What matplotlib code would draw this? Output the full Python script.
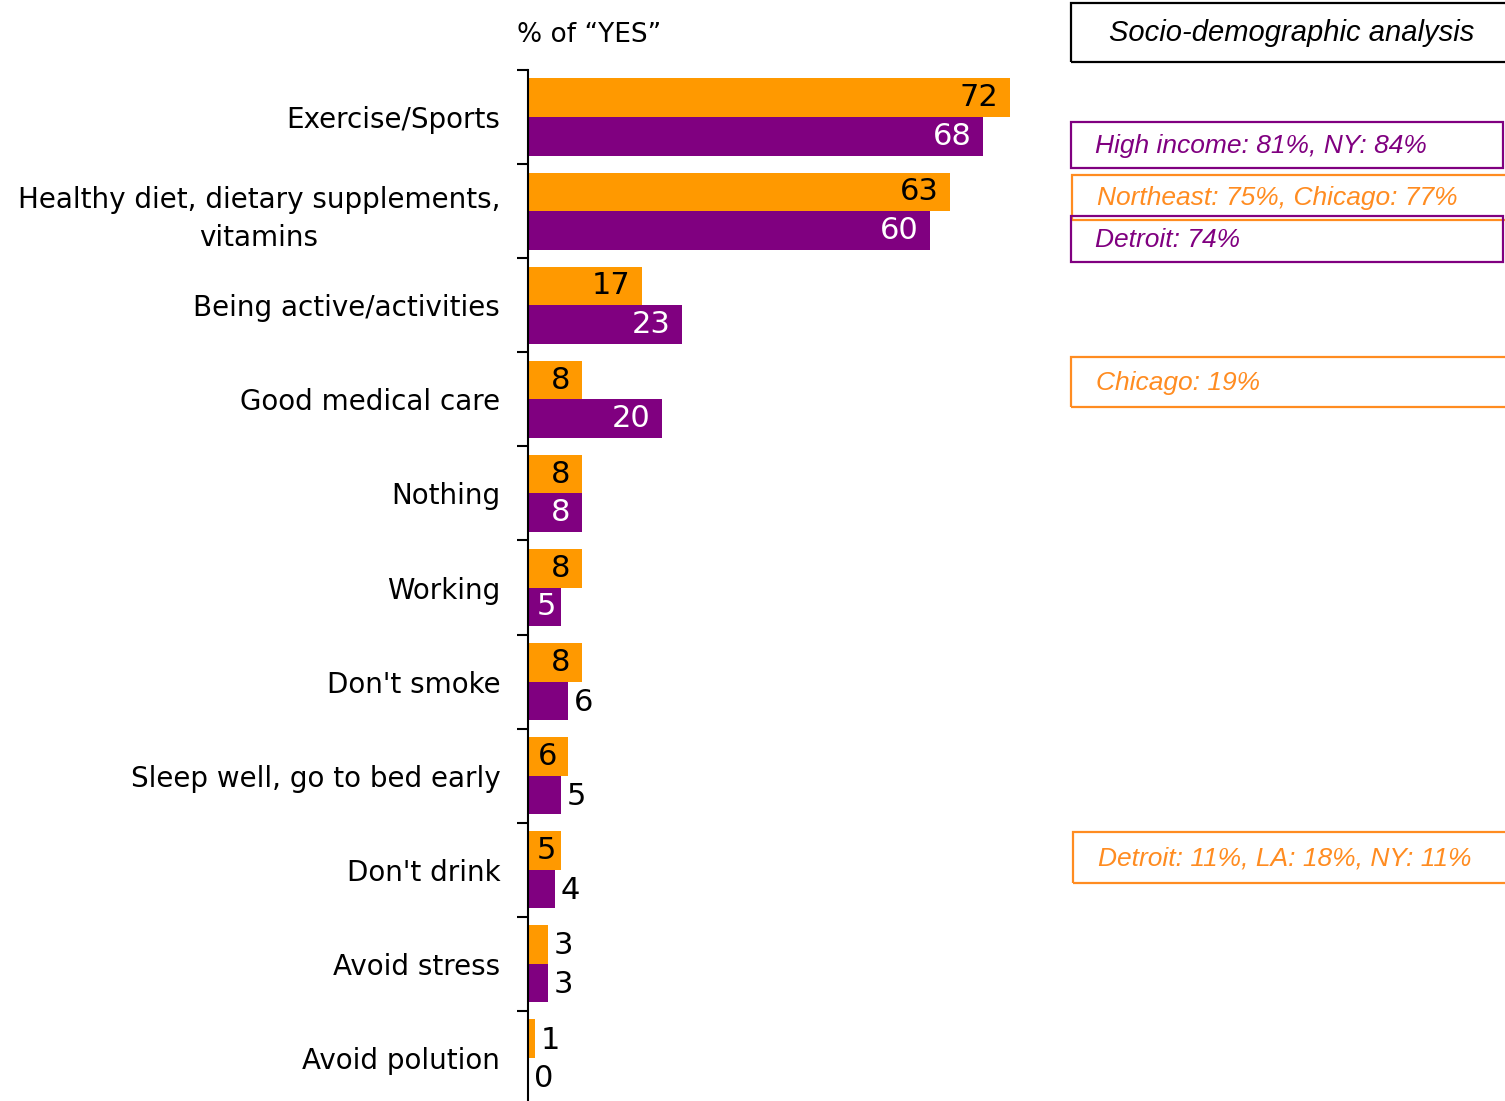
import matplotlib
matplotlib.use("Agg")
import matplotlib.pyplot as plt
from matplotlib.patches import Rectangle

# Data
categories = ["Exercise/Sports", "Healthy diet, dietary supplements,\nvitamins",
              "Being active/activities", "Good medical care", "Nothing", "Working",
              "Don't smoke", "Sleep well, go to bed early", "Don't drink",
              "Avoid stress", "Avoid polution"]
orange_vals = [72, 63, 17, 8, 8, 8, 8, 6, 5, 3, 1]
purple_vals = [68, 60, 23, 20, 8, 5, 6, 5, 4, 3, 0]

# label placement: True = inside the bar end
orange_inside = [True, True, True, True, True, True, True, True, True, False, False]
purple_inside = [True, True, True, True, True, True, False, False, False, False, False]

notes = [
    ("High income: 81%, NY: 84%", "purple"),
    ("Northeast: 75%, Chicago: 77%", "orange"),
    ("Detroit: 74%", "purple"),
    ("Chicago: 19%", "orange"),
    ("Detroit: 11%, LA: 18%, NY: 11%", "orange"),
]

ORANGE = "#FF9900"
PURPLE = "#800080"
NOTE_ORANGE = "#FF8C21"

W, H = 1505, 1101
fig = plt.figure(figsize=(W / 100, H / 100), dpi=100)

ax = fig.add_axes([528 / W, 1 - 1105 / H, 522 / W, 1035 / H])
ypos = list(range(len(categories)))
bh = 0.41
ax.barh([y - bh / 2 for y in ypos], orange_vals, height=bh, color=ORANGE)
ax.barh([y + bh / 2 for y in ypos], purple_vals, height=bh, color=PURPLE)

def value_label(v, y, inside, inside_color):
    if inside:
        off = -8 if v > 5 else -4
        ax.annotate(str(v), (v, y), xytext=(off, 0), textcoords="offset points",
                    ha="right", va="center", fontsize=22, color=inside_color)
    else:
        ax.annotate(str(v), (v, y), xytext=(4, -1), textcoords="offset points",
                    ha="left", va="center", fontsize=22, color="black")

for y, v, inside in zip(ypos, orange_vals, orange_inside):
    value_label(v, y - bh / 2, inside, "black")
for y, v, inside in zip(ypos, purple_vals, purple_inside):
    value_label(v, y + bh / 2, inside, "white")

ax.set_xlim(0, 78)
ax.set_ylim(10.5, -0.5)
ax.set_yticks(ypos)
ax.set_yticklabels(categories, fontsize=20, multialignment="center", linespacing=1.45)
ax.tick_params(axis="y", which="major", length=0, pad=20)
ax.set_yticks([y - 0.5 for y in ypos] + [10.5], minor=True)
ax.tick_params(axis="y", which="minor", length=8, width=1.5, direction="out")
ax.set_xticks([])
for s in ["top", "right", "bottom"]:
    ax.spines[s].set_visible(False)
ax.spines["left"].set_linewidth(1.5)

fig.text(517 / W, 1 - 35 / H, "% of \u201cYES\u201d", fontsize=19, ha="left", va="center")

# Annotation boxes on the right
def box(x0, y0, x1, y1, color):
    fig.patches.append(Rectangle((x0 / W, 1 - y1 / H), (x1 - x0) / W, (y1 - y0) / H,
                                 transform=fig.transFigure, fill=False,
                                 edgecolor=color, linewidth=1.6))

box(1071, 3, 1510, 62, "black")
fig.text(1292 / W, 1 - 33 / H, "Socio-demographic analysis", fontsize=21, style="italic",
         family="Liberation Sans", ha="center", va="center")

note_boxes = [(1071, 122, 1503, 168), (1072, 175, 1510, 220), (1071, 216, 1503, 262),
              (1071, 357, 1510, 407), (1073, 832, 1510, 883)]
note_text_x = [1095, 1097, 1095, 1096, 1098]
for (txt, c), (x0, y0, x1, y1), tx in zip(notes, note_boxes, note_text_x):
    col = PURPLE if c == "purple" else NOTE_ORANGE
    box(x0, y0, x1, y1, col)
    fig.text(tx / W, 1 - ((y0 + y1) / 2 + 1) / H, txt, fontsize=19, style="italic",
             family="Liberation Sans", color=col, ha="left", va="center")

fig.savefig("out.png", dpi=100)
